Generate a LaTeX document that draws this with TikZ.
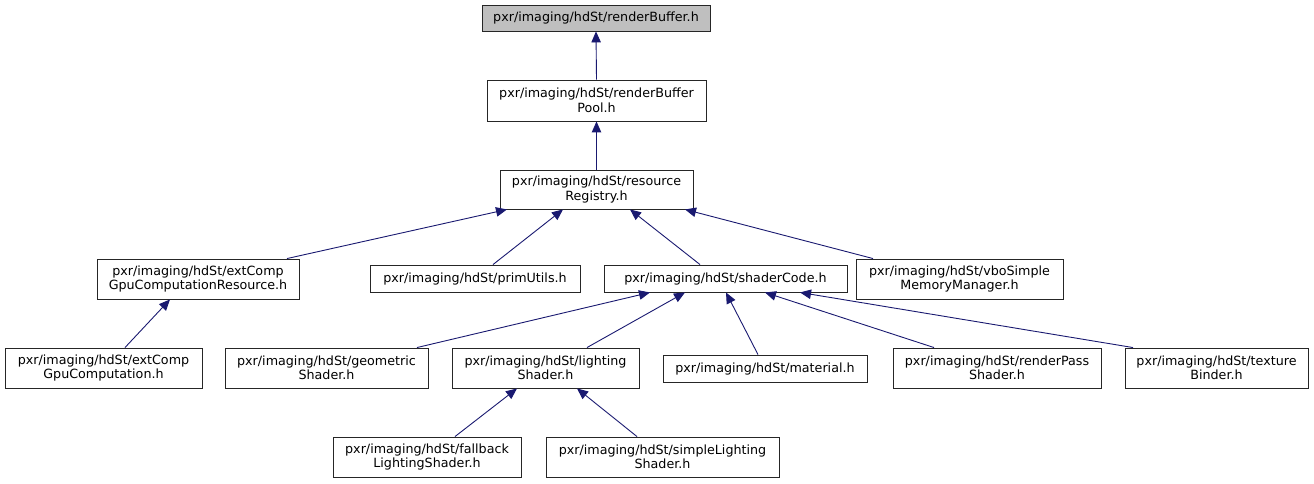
\documentclass[tikz,border=0pt]{standalone}
\usepackage{fontspec}
\setmainfont{DejaVu Sans}
\usetikzlibrary{arrows.meta}
\definecolor{edgeblue}{RGB}{25,25,112}
\definecolor{rootgray}{RGB}{191,191,191}
\tikzset{
  box/.style={draw=black!85, line width=0.9pt, fill=white, inner sep=0pt, align=center,
    font=\fontsize{12.7}{14.5}\selectfont},
  edge/.style={draw=edgeblue, line width=0.9pt, -{Triangle[length=11pt,width=9.5pt]}},
}
\begin{document}
\begin{tikzpicture}[x=1pt,y=-1pt]
\useasboundingbox (0,0) rectangle (1314,484);
\node[box, fill=rootgray, minimum width=228pt, minimum height=26pt] (rb) at (596,18) {pxr/imaging/hdSt/renderBuffer.h};
\node[box, minimum width=219pt, minimum height=41pt] (rbp) at (596.5,100.5) {pxr/imaging/hdSt/renderBuffer\\Pool.h};
\node[box, minimum width=193pt, minimum height=39pt] (rr) at (596.5,189.5) {pxr/imaging/hdSt/resource\\Registry.h};
\node[box, minimum width=202pt, minimum height=40pt] (ecr) at (198,279) {pxr/imaging/hdSt/extComp\\GpuComputationResource.h};
\node[box, minimum width=210pt, minimum height=27pt] (pu) at (475,278.5) {pxr/imaging/hdSt/primUtils.h};
\node[box, minimum width=243pt, minimum height=27pt] (sc) at (725.5,278.5) {pxr/imaging/hdSt/shaderCode.h};
\node[box, minimum width=207pt, minimum height=40pt] (vbo) at (959.5,279) {pxr/imaging/hdSt/vboSimple\\MemoryManager.h};
\node[box, minimum width=197pt, minimum height=40pt] (ec) at (103.5,368) {pxr/imaging/hdSt/extComp\\GpuComputation.h};
\node[box, minimum width=203pt, minimum height=40pt] (geo) at (326.5,368) {pxr/imaging/hdSt/geometric\\Shader.h};
\node[box, minimum width=187pt, minimum height=40pt] (ls) at (545.5,368) {pxr/imaging/hdSt/lighting\\Shader.h};
\node[box, minimum width=204pt, minimum height=27pt] (mat) at (765,368.5) {pxr/imaging/hdSt/material.h};
\node[box, minimum width=208pt, minimum height=40pt] (rp) at (997,368) {pxr/imaging/hdSt/renderPass\\Shader.h};
\node[box, minimum width=183pt, minimum height=40pt] (tb) at (1216.5,368) {pxr/imaging/hdSt/texture\\Binder.h};
\node[box, minimum width=188pt, minimum height=40pt] (fb) at (427,457) {pxr/imaging/hdSt/fallback\\LightingShader.h};
\node[box, minimum width=233pt, minimum height=40pt] (sl) at (662.5,457) {pxr/imaging/hdSt/simpleLighting\\Shader.h};
% edges
\draw[edge] (rbp.north) -- (rb.south);
\draw[edge] (rr.north) -- (rbp.south);
\draw[edge] ([xshift=89pt]ecr.north) -- ([xshift=-89.5pt]rr.south);
\draw[edge] ([xshift=18pt]pu.north) -- ([xshift=-33.5pt]rr.south);
\draw[edge] ([xshift=-25.5pt]sc.north) -- ([xshift=33.5pt]rr.south);
\draw[edge] ([xshift=-86.5pt]vbo.north) -- ([xshift=88.5pt]rr.south);
\draw[edge] ([xshift=21.5pt]ec.north) -- ([xshift=-28pt]ecr.south);
\draw[edge] ([xshift=90.5pt]geo.north) -- ([xshift=-75.5pt]sc.south);
\draw[edge] ([xshift=41.5pt]ls.north) -- ([xshift=-40.5pt]sc.south);
\draw[edge] ([xshift=-7pt]mat.north) -- ([xshift=0.5pt]sc.south);
\draw[edge] ([xshift=-63pt]rp.north) -- ([xshift=39.5pt]sc.south);
\draw[edge] ([xshift=-83.5pt]tb.north) -- ([xshift=74.5pt]sc.south);
\draw[edge] ([xshift=28pt]fb.north) -- ([xshift=-28.5pt]ls.south);
\draw[edge] ([xshift=-25.5pt]sl.north) -- ([xshift=31.5pt]ls.south);
\end{tikzpicture}
\end{document}
